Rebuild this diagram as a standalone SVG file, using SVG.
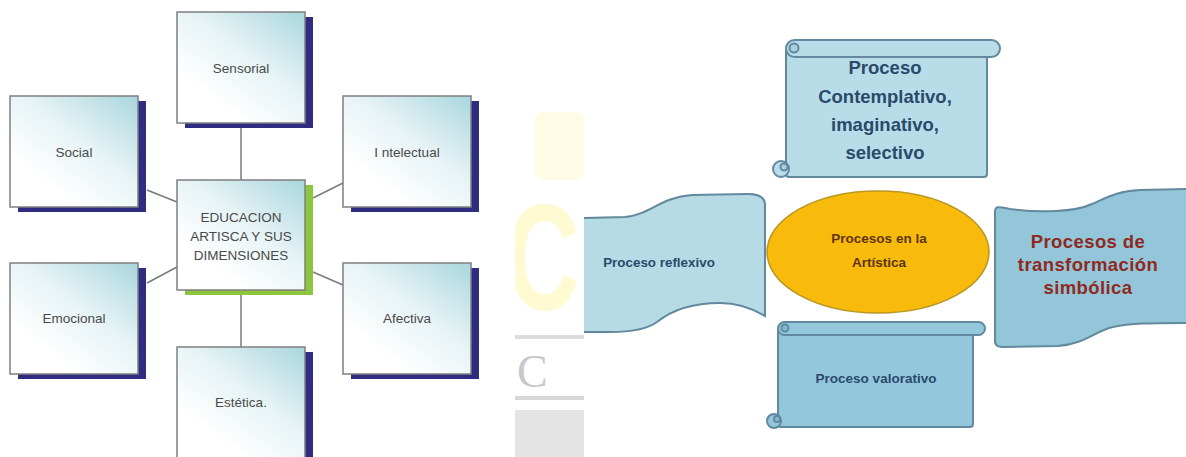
<svg xmlns="http://www.w3.org/2000/svg" width="1186" height="457" viewBox="0 0 1186 457">
<style>
.box{stroke:#7f7f7f;stroke-width:1.5;fill:url(#boxg)}
.sh{fill:#2e2d82}
.shg{fill:#8cc63f}
.lt{font-family:"Liberation Sans",Arial,sans-serif;font-size:13.5px;fill:#4a4a4a;text-anchor:middle}
.con{stroke:#7a7a7a;stroke-width:1.5;fill:none}
.scr{stroke:#62899e;stroke-width:2}
.bt{font-family:"Liberation Sans",Arial,sans-serif;font-weight:bold;text-anchor:middle;fill:#2a4a6c}
</style>
<defs>
<linearGradient id="boxg" x1="1" y1="0" x2="0.3" y2="0.8">
<stop offset="0" stop-color="#a9d6de"/>
<stop offset="0.55" stop-color="#e6f3f5"/>
<stop offset="1" stop-color="#ffffff"/>
</linearGradient>
<clipPath id="strip"><rect x="515" y="0" width="69" height="457"/></clipPath>
</defs>
<rect width="1186" height="457" fill="#ffffff"/>

<g id="watermark" clip-path="url(#strip)">
<rect x="535" y="112" width="49" height="68" rx="8" fill="#fffce6"/>
<text transform="translate(506,310) scale(0.68,1)" font-family="Liberation Sans,Arial,sans-serif" font-weight="bold" font-size="150" fill="#fffad2">C</text>
<rect x="515" y="335" width="69" height="4" fill="#dcdcdc"/>
<text x="517" y="387" font-family="Liberation Serif,serif" font-size="46" fill="#c8c8c8">C</text>
<rect x="515" y="396" width="69" height="4" fill="#d8d8d8"/>
<rect x="515" y="410" width="69" height="47" fill="#e4e4e4"/>
</g>

<g id="connectors">
<line class="con" x1="241" y1="124" x2="241" y2="180"/>
<line class="con" x1="241" y1="290" x2="241" y2="347"/>
<line class="con" x1="147" y1="190" x2="177" y2="202"/>
<line class="con" x1="313" y1="198" x2="343" y2="183"/>
<line class="con" x1="147" y1="283" x2="177" y2="267"/>
<line class="con" x1="313" y1="272" x2="343" y2="285"/>
</g>

<g id="sensorial">
<rect class="sh" x="185" y="17" width="128" height="111"/>
<rect class="box" x="177" y="12" width="128" height="111"/>
<text class="lt" x="241" y="73">Sensorial</text>
</g>
<g id="social">
<rect class="sh" x="18" y="101" width="128" height="111"/>
<rect class="box" x="10" y="96" width="128" height="111"/>
<text class="lt" x="74" y="157">Social</text>
</g>
<g id="intelectual">
<rect class="sh" x="351" y="101" width="128" height="111"/>
<rect class="box" x="343" y="96" width="128" height="111"/>
<text class="lt" x="407" y="157">I ntelectual</text>
</g>
<g id="centro">
<rect class="shg" x="185" y="185" width="128" height="110"/>
<rect class="box" x="177" y="180" width="128" height="110"/>
<text class="lt" x="241" y="222">EDUCACION</text>
<text class="lt" x="241" y="241">ARTISCA Y SUS</text>
<text class="lt" x="241" y="260">DIMENSIONES</text>
</g>
<g id="emocional">
<rect class="sh" x="18" y="268" width="128" height="111"/>
<rect class="box" x="10" y="263" width="128" height="111"/>
<text class="lt" x="74" y="323">Emocional</text>
</g>
<g id="afectiva">
<rect class="sh" x="351" y="268" width="128" height="111"/>
<rect class="box" x="343" y="263" width="128" height="111"/>
<text class="lt" x="407" y="323">Afectiva</text>
</g>
<g id="estetica">
<rect class="sh" x="185" y="352" width="128" height="111"/>
<rect class="box" x="177" y="347" width="128" height="111"/>
<text class="lt" x="241" y="407">Estética.</text>
</g>

<g id="proceso-contemplativo">
<rect class="scr" x="786" y="48" width="201" height="129" rx="3" fill="#b9dde8"/>
<rect class="scr" x="786" y="40" width="214" height="17" rx="8.5" fill="#b9dde8"/>
<circle class="scr" cx="794" cy="48" r="4.5" fill="#a9d2df" stroke-width="1.5"/>
<circle class="scr" cx="781" cy="169" r="8" fill="#b9dde8"/>
<circle class="scr" cx="784" cy="167" r="3.5" fill="#a9d2df" stroke-width="1.5"/>
<text class="bt" x="885" y="74" font-size="18.5">Proceso</text>
<text class="bt" x="885" y="103" font-size="18.5">Contemplativo,</text>
<text class="bt" x="885" y="131" font-size="18.5">imaginativo,</text>
<text class="bt" x="885" y="159" font-size="18.5">selectivo</text>
</g>

<g id="proceso-reflexivo">
<path d="M584,218 L625,217 C650,215 660,197 692,195 L748,194 C758,194 765,197 765,205 L765,316 C755,310 740,303 720,303 C692,303 672,310 657,322 C646,330 630,332 610,332 L584,332" fill="#b6dbe5" class="scr"/>
<rect x="584" y="219" width="3" height="112" fill="#b6dbe5"/>
<text class="bt" x="659" y="267" font-size="13.4">Proceso reflexivo</text>
</g>

<g id="procesos-artistica">
<ellipse cx="878" cy="252" rx="111" ry="61" fill="#f8bb0b" stroke="#b99722" stroke-width="1.5"/>
<text class="bt" x="879" y="243" font-size="13.5" style="fill:#5e3412">Procesos en la</text>
<text class="bt" x="879" y="267" font-size="13.5" style="fill:#5e3412">Artística</text>
</g>

<g id="procesos-transformacion">
<path d="M1190,189 L1140,190 C1118,191 1108,197 1092,204 C1075,212 1040,213 1010,209 C1000,207 995,205 995,212 L995,341 C995,346 998,347 1005,347 L1058,346 C1085,344 1095,331 1113,327 C1130,323 1150,323 1190,323 Z" fill="#93c6d9" class="scr"/>
<text class="bt" x="1088" y="248" font-size="18.5" letter-spacing="0.4" style="fill:#8e2a22">Procesos de</text>
<text class="bt" x="1088" y="271" font-size="18.5" letter-spacing="0.4" style="fill:#8e2a22">transformación</text>
<text class="bt" x="1088" y="294" font-size="18.5" letter-spacing="0.4" style="fill:#8e2a22">simbólica</text>
</g>

<g id="proceso-valorativo">
<rect class="scr" x="778" y="328" width="195" height="99" rx="3" fill="#93c7dc"/>
<rect class="scr" x="778" y="322" width="207" height="13" rx="6.5" fill="#93c7dc"/>
<circle class="scr" cx="785" cy="328" r="3.5" fill="#84bcd2" stroke-width="1.5"/>
<circle class="scr" cx="774" cy="421" r="7" fill="#93c7dc"/>
<circle class="scr" cx="777" cy="419" r="3" fill="#84bcd2" stroke-width="1.5"/>
<text class="bt" x="876" y="383" font-size="13.5">Proceso valorativo</text>
</g>
</svg>
